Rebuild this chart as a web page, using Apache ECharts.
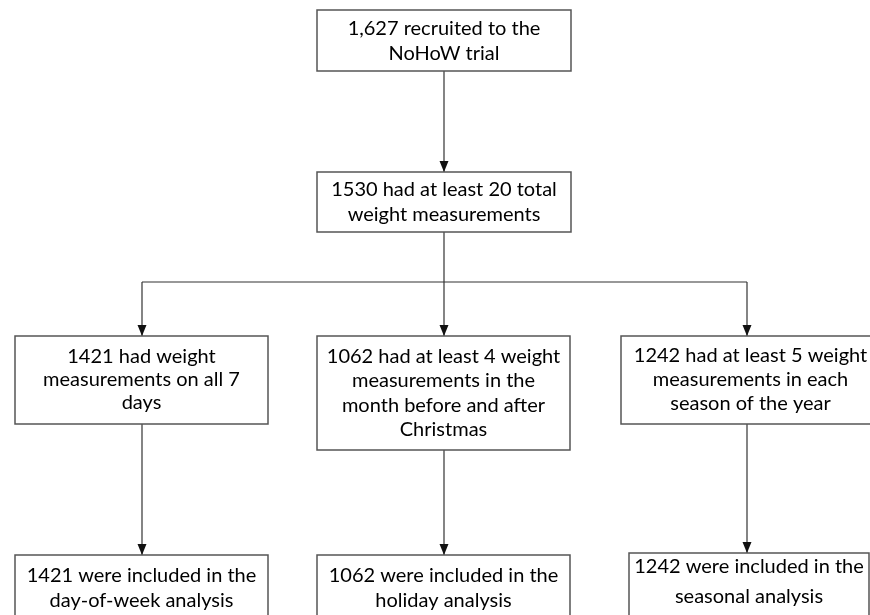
<!DOCTYPE html>
<html>
<head>
<meta charset="utf-8">
<script src="https://cdn.jsdelivr.net/npm/echarts@6/dist/echarts.min.js"></script>
<style>
html,body{margin:0;padding:0;background:#fff;}
#chart{width:870px;height:615px;}
</style>
</head>
<body>
<div id="chart"></div>
<script>
// ---- Flow stages (text content) ----
const stageCounts = [1627, 1530, 1421, 1062, 1242, 1421, 1062, 1242];
const stageTexts = [
  "1,627 recruited to the\nNoHoW trial",
  "1530 had at least 20 total\nweight measurements",
  "1421 had weight\nmeasurements on all 7\ndays",
  "1062 had at least 4 weight\nmeasurements in the\nmonth before and after\nChristmas",
  "1242 had at least 5 weight\nmeasurements in each\nseason of the year",
  "1421 were included in the\nday-of-week analysis",
  "1062 were included in the\nholiday analysis",
  "1242 were included in the\nseasonal analysis"
];
// links between stages: [from, to]
const stageLinks = [[0, 1], [1, 2], [1, 3], [1, 4], [2, 5], [3, 6], [4, 7]];

// ---- Layout (axis units, separate from data) ----
const boxLayout = [
  [317, 10, 571, 71],
  [317, 172, 571, 232],
  [15, 336, 268, 424],
  [317, 336, 570, 450],
  [621, 336, 880, 424],
  [15, 555, 268, 624],
  [317, 555, 570, 624],
  [629, 553, 869, 618]
];
const lineHeights = [25, 25, 23, 24.5, 24, 25, 25, 30];
const textCenters = [41, 202, 380, 393, 380, 588, 588, 582];
const branchY = 282;
const arrowX = [444, 444, 142, 444, 747, 142, 444, 747];

const boxData = stageTexts.map((t, i) => ({
  value: [boxLayout[i][0], boxLayout[i][1], boxLayout[i][2], boxLayout[i][3], textCenters[i], lineHeights[i], stageCounts[i]],
  label: t
}));

// build edges (segments) from links
const edgeData = [];
edgeData.push([arrowX[1], boxLayout[0][3], arrowX[1], boxLayout[1][1], 1]);
edgeData.push([arrowX[1], boxLayout[1][3], arrowX[1], branchY, 0]);
edgeData.push([arrowX[2], branchY, arrowX[4], branchY, 0]);
stageLinks.slice(1).forEach(([a, b]) => {
  if (a === 1) {
    edgeData.push([arrowX[b], branchY, arrowX[b], boxLayout[b][1], 1]);
  } else {
    edgeData.push([arrowX[b], boxLayout[a][3], arrowX[b], boxLayout[b][1], 1]);
  }
});

const chart = echarts.init(document.getElementById('chart'));
const FONT = 'Lato, "Liberation Sans", sans-serif';

chart.setOption({
  animation: false,
  backgroundColor: '#ffffff',
  grid: { left: 0, right: 0, top: 0, bottom: 0 },
  xAxis: { type: 'value', min: 0, max: 870, show: false },
  yAxis: { type: 'value', min: 0, max: 615, inverse: true, show: false },
  series: [
    {
      type: 'custom',
      clip: false,
      silent: true,
      data: edgeData,
      renderItem: function (params, api) {
        const p1 = api.coord([api.value(0), api.value(1)]);
        const p2 = api.coord([api.value(2), api.value(3)]);
        const children = [{
          type: 'line',
          shape: { x1: p1[0], y1: p1[1], x2: p2[0], y2: p2[1] },
          style: { stroke: '#333', lineWidth: 1.2 }
        }];
        if (api.value(4)) {
          const x = p2[0], y = p2[1];
          children.push({
            type: 'polygon',
            shape: { points: [[x - 4.5, y - 11], [x + 4.5, y - 11], [x, y]] },
            style: { fill: '#111' }
          });
        }
        return { type: 'group', children: children };
      }
    },
    {
      type: 'custom',
      clip: false,
      silent: true,
      data: boxData,
      renderItem: function (params, api) {
        const p1 = api.coord([api.value(0), api.value(1)]);
        const p2 = api.coord([api.value(2), api.value(3)]);
        const tc = api.coord([(api.value(0) + api.value(2)) / 2, api.value(4)]);
        const txt = stageTexts[params.dataIndex];
        return {
          type: 'group',
          children: [
            {
              type: 'rect',
              shape: { x: p1[0], y: p1[1], width: p2[0] - p1[0], height: p2[1] - p1[1] },
              style: { fill: '#fff', stroke: '#555', lineWidth: 1.5 }
            },
            {
              type: 'text',
              x: tc[0], y: tc[1],
              style: {
                text: txt,
                fill: '#000',
                font: '20px ' + FONT,
                align: 'center',
                verticalAlign: 'middle',
                lineHeight: api.value(5)
              }
            }
          ]
        };
      }
    }
  ]
});
</script>
</body>
</html>
